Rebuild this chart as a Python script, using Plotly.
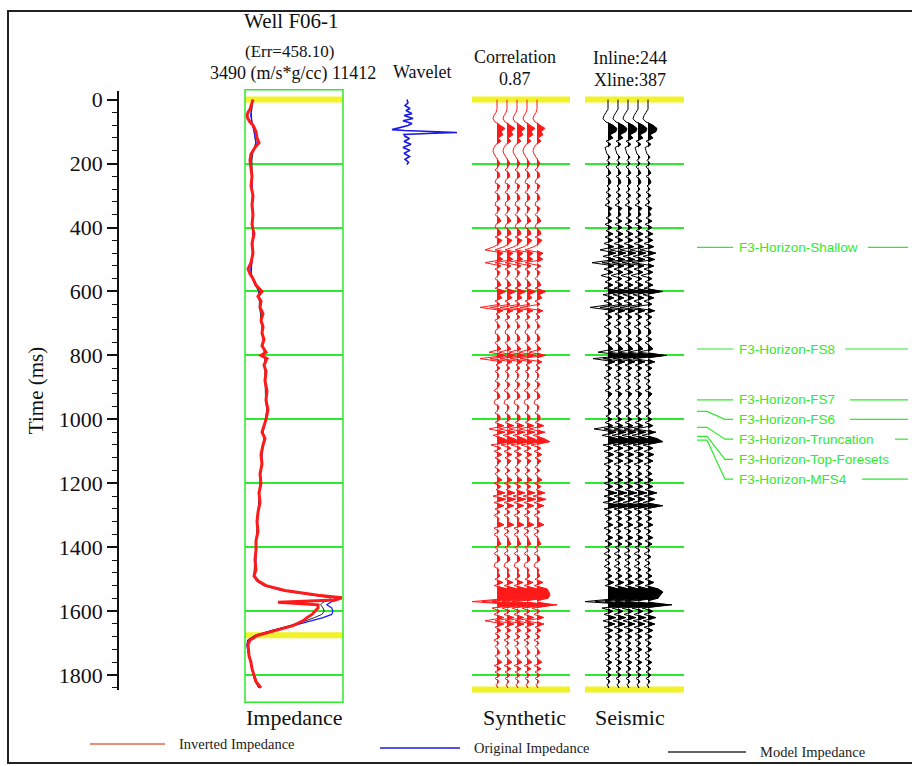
import plotly.graph_objects as go

W, H = 912, 766
T0_PX, PX_MS = 97.0, 0.321          # time 0 at pixel row 97, 0.321 px per ms


def t_at(ypx):
    return (ypx - T0_PX) / PX_MS


def fx(x):
    return x / W


def fy(y):
    return 1 - y / H


# ---------------- data ----------------
imp_time = [0, 10, 20, 30, 40, 50, 60, 70, 80,
            100, 120, 135, 150, 170, 190,
            210, 240, 270, 300, 330, 360, 390, 420, 450, 480,
            510, 530, 545, 560, 580, 600, 615, 630, 650, 670,
            690, 710, 730, 750, 770, 790, 800, 810, 830, 850,
            880, 910, 940, 970, 1000, 1020, 1040, 1060, 1080, 1110,
            1140, 1170, 1200, 1230, 1260, 1290, 1320, 1350, 1380, 1410,
            1440, 1470, 1490, 1505, 1520, 1535, 1550, 1558, 1565, 1572,
            1580, 1590, 1600, 1610, 1620, 1630, 1645, 1660, 1675, 1690,
            1705, 1720, 1740, 1760, 1780, 1800, 1820, 1840]

inverted_imp = [4137, 4056, 3975, 3894, 3733, 3652, 3733, 3894, 4137,
                4379, 4460, 4622, 4298, 3975, 3894,
                3975, 4056, 3975, 4137, 4056, 4137, 4056, 4218, 4056, 4137,
                3975, 3733, 3894, 4137, 4379, 4864, 4541, 4783, 4703, 4945,
                4783, 4945, 4864, 5026, 4864, 5188, 4783, 5268, 5026, 5188,
                5107, 5268, 5188, 5349, 5188, 5026, 4864, 5107, 4945, 4783,
                4864, 4703, 4783, 4622, 4703, 4541, 4460, 4541, 4379, 4379,
                4298, 4379, 4218, 4541, 5188, 6724, 9391, 11331, 10765, 6158,
                9391, 9391, 9149, 8906, 8502, 8179, 7370, 5915, 4541, 3894,
                3733, 3773, 3814, 3975, 4056, 4218, 4379, 4783]

original_imp = [4100, 4100, 4050, 4000, 3950, 3950, 4000, 4050, 4100,
                4250, 4350, 4400, 4250, 4050, 4000,
                4000, 4050, 4050, 4100, 4100, 4100, 4100, 4150, 4100, 4100,
                4050, 3950, 4000, 4150, 4350, 4700, 4600, 4700, 4700, 4850,
                4800, 4900, 4900, 5000, 4900, 5100, 4900, 5150, 5050, 5150,
                5100, 5200, 5200, 5300, 5200, 5050, 4950, 5050, 4950, 4850,
                4850, 4750, 4750, 4650, 4650, 4550, 4500, 4500, 4400, 4400,
                4350, 4350, 4250, 4450, 5100, 6400, 9000, 10700, 10900, 10400,
                10100, 10500, 10600, 10500, 9800, 8900, 7400, 5700, 4400, 3750,
                3650, 3700, 3800, 3950, 4050, 4200, 4350, 4700]

model_imp = [4100, 4100, 4100, 4050, 4000, 4000, 4000, 4050, 4100,
             4250, 4300, 4350, 4250, 4100, 4050,
             4050, 4050, 4050, 4100, 4100, 4100, 4100, 4150, 4100, 4100,
             4050, 4000, 4000, 4100, 4300, 4600, 4550, 4650, 4650, 4750,
             4750, 4850, 4850, 4950, 4900, 5050, 4950, 5100, 5050, 5100,
             5100, 5150, 5150, 5250, 5150, 5050, 4950, 5000, 4950, 4850,
             4800, 4750, 4700, 4650, 4600, 4550, 4500, 4450, 4400, 4350,
             4300, 4250, 4200, 4400, 5000, 6600, 9300, 10400, 10300, 9800,
             9600, 9800, 9900, 9700, 9100, 8400, 7100, 5600, 4300, 3700,
             3650, 3700, 3800, 3900, 4000, 4150, 4300, 4600]

imp_min, imp_max = 3490, 11412
imp_markers = [0, 1675]            # yellow marker times on impedance track

wavelet_lag = [-103, -93, -84, -75, -69, -59, -53, -44, -37, -28, -22, -16, -9, -6,
               -2, 0, 3, 6, 12, 19, 28, 37, 47, 56, 65, 75, 84, 93, 100]
wavelet_amp = [0.0, 0.02, -0.04, 0.06, -0.02, 0.10, -0.06, 0.12, -0.08, 0.10, 0.02, -0.14,
               -0.30, -0.05, 0.60, 1.00, 0.40, -0.06, -0.04, 0.05, -0.06, 0.08, -0.08,
               0.06, -0.06, 0.05, -0.04, 0.03, 0.0]

trace_time = list(range(0, 1841, 10))   # 10 ms sampling

synthetic_amp = [0, 0, 0, 0, -1, -3, -4, -2, 3, 8,
                 4, 6, 1, 4, -1, -3, -4, -3, -1, 1,
                 3, 1, -2, 2, 3, -1, -2, 3, 1, -2,
                 2, 3, -1, -2, 3, 1, -2, 2, 4, -1,
                 -2, 3, 4, -2, 5, 2, -3, -12, 6, 2,
                 6, -12, 4, -2, 3, 1, -2, 2, 4, -2,
                 9, 2, 5, -2, 3, -17, 6, -1, 3, -2,
                 1, 3, -1, -2, 2, 3, -2, 1, 4, -8,
                 9, -17, 5, -1, 3, -2, 2, 1, -2, 3,
                 1, -3, 2, 3, -2, -3, 2, 1, -2, 3,
                 3, -2, 7, -8, 8, -4, 7, 13, -6, 4,
                 -3, 5, -2, 4, 1, -2, 3, -2, 1, 5,
                 -3, 4, -1, 8, -4, 9, -3, 7, -2, 3,
                 -3, 2, 1, 7, -3, 2, -3, 1, 2, 4,
                 -2, 1, -3, 2, 3, -2, -3, 2, 1, 3,
                 -2, 6, -3, 10, 12, 13, 11, -25, 20, -5,
                 3, -3, 7, -12, 7, -2, 4, -2, 3, -3,
                 2, -2, 1, 3, -2, 1, 5, -3, 4, -2,
                 3, -2, 2, -1, 1]

seismic_amp = [0, 0, 0, 0, -2, -4, -5, -2, 5, 9,
               8, 2, 5, -2, 3, -3, -2, -1, 2, -1,
               2, -2, 1, 3, -2, 2, 3, -1, 2, -2,
               3, -2, 2, -3, 4, 1, 3, -2, 4, -3,
               4, -2, 5, -3, 5, -4, 6, -8, 8, -5,
               7, -16, 6, -4, 5, -7, 4, -3, 5, -4,
               15, -5, 6, -4, 4, -18, 7, -3, 4, -2,
               3, -4, 2, 3, -2, 4, -3, 2, 5, -10,
               19, -15, 7, -3, 4, -2, 3, -4, 2, -2,
               3, -3, 4, 1, -2, 3, -4, 2, 3, -2,
               4, -3, 5, -14, 8, -6, 9, 15, -5, 5,
               -4, 6, -3, 5, -4, 3, -2, 4, -3, 5,
               -4, 5, -3, 9, -4, 7, -5, 15, -4, 4,
               -3, 4, -2, 5, -4, 3, -2, 5, -3, 4,
               -3, 2, -4, 3, -3, 2, -4, 3, -2, 4,
               -3, 6, -3, 10, 15, 12, 10, -23, 24, -6,
               5, -4, 8, -5, 7, -4, 5, -3, 4, -3,
               3, -2, 4, -3, 2, -3, 4, -2, 3, -2,
               3, -2, 2, -1, 1]

trace_window = [0, 1845]           # yellow marker times on synthetic/seismic

horizon_names = ["F3-Horizon-Shallow", "F3-Horizon-FS8", "F3-Horizon-FS7", "F3-Horizon-FS6",
                 "F3-Horizon-Truncation", "F3-Horizon-Top-Foresets", "F3-Horizon-MFS4"]
horizon_times = [462, 780, 939, 975, 1025, 1053, 1065]
horizon_label_times = [462, 780, 939, 1000, 1062, 1125, 1187]
horizon_tail_start = [868, 845, 850, 850, 895, 912, 862]

# ---------------- layout geometry ----------------
FONT_SERIF = "Liberation Serif, Times New Roman, serif"
FONT_SANS = "Liberation Sans, Arial, sans-serif"
GREEN = "#2eea2e"
YELLOW = "rgb(242,242,40)"
RED = "#ff1a1a"

Y_TOP, Y_BOT = 87, 702
main_range = [t_at(Y_BOT), t_at(Y_TOP)]
main_dom = [fy(Y_BOT), fy(Y_TOP)]
WAVE_PEAK_T = t_at(130)

fig = go.Figure()

# dummy for the visible time axis
fig.add_trace(go.Scatter(x=[None], y=[None], xaxis="x", yaxis="y2", showlegend=False,
                         hoverinfo="skip"))

# yellow window markers (drawn first, under the curves)
for t in imp_markers:
    fig.add_trace(go.Scatter(x=[imp_min, imp_max], y=[t, t], xaxis="x", yaxis="y", mode="lines",
                             line=dict(color=YELLOW, width=6), showlegend=False, hoverinfo="skip"))
for xa, xr in [("x3", [0, 98]), ("x4", [0, 99])]:
    for t in trace_window:
        fig.add_trace(go.Scatter(x=xr, y=[t, t], xaxis=xa, yaxis="y", mode="lines",
                                 line=dict(color=YELLOW, width=6), showlegend=False,
                                 hoverinfo="skip"))

# impedance track
fig.add_trace(go.Scatter(x=model_imp, y=imp_time, xaxis="x", yaxis="y", mode="lines",
                         line=dict(color="#222222", width=1), showlegend=False))
fig.add_trace(go.Scatter(x=original_imp, y=imp_time, xaxis="x", yaxis="y", mode="lines",
                         line=dict(color="#1a1aff", width=1.2), showlegend=False))
fig.add_trace(go.Scatter(x=inverted_imp, y=imp_time, xaxis="x", yaxis="y", mode="lines",
                         line=dict(color=RED, width=3), showlegend=False))

# wavelet
fig.add_trace(go.Scatter(x=wavelet_amp, y=wavelet_lag, xaxis="x2", yaxis="y3", mode="lines",
                         line=dict(color="#1a1ae6", width=1.6), showlegend=False))


def add_wiggles(amp, offsets, xa, color):
    for off in offsets:
        base = [off] * len(trace_time)
        pos = [off + max(a, 0) for a in amp]
        full = [off + a for a in amp]
        fig.add_trace(go.Scatter(x=base, y=trace_time, xaxis=xa, yaxis="y", mode="lines",
                                 line=dict(width=0, color=color), showlegend=False,
                                 hoverinfo="skip"))
        fig.add_trace(go.Scatter(x=pos, y=trace_time, xaxis=xa, yaxis="y", mode="lines",
                                 line=dict(width=0, color=color), fill="tonextx",
                                 fillcolor=color, showlegend=False, hoverinfo="skip"))
        fig.add_trace(go.Scatter(x=full, y=trace_time, xaxis=xa, yaxis="y", mode="lines",
                                 line=dict(width=1.0, color=color), showlegend=False))


add_wiggles(synthetic_amp, [25, 35, 45, 55, 65], "x3", RED)
add_wiggles(seismic_amp, [23, 33, 43, 53, 63], "x4", "#000000")

# horizons
for name, ht, lt, tail in zip(horizon_names, horizon_times, horizon_label_times, horizon_tail_start):
    if lt == ht:
        xs, ys = [697, 733], [ht, ht]
    else:
        xs, ys = [697, 707, 725, 733], [ht, ht, lt, lt]
    fig.add_trace(go.Scatter(x=xs, y=ys, xaxis="x5", yaxis="y5", mode="lines",
                             line=dict(color=GREEN, width=1.2), showlegend=False))
    if tail < 908:
        fig.add_trace(go.Scatter(x=[tail, 908], y=[lt, lt], xaxis="x5", yaxis="y5", mode="lines",
                                 line=dict(color=GREEN, width=1.2), showlegend=False))
    fig.add_annotation(x=737, y=lt, xref="x5", yref="y5", text=name, showarrow=False,
                       xanchor="left", yanchor="middle",
                       font=dict(family=FONT_SANS, size=13.5, color=GREEN))

shapes = []
# impedance box
shapes.append(dict(type="rect", xref="paper", yref="paper", x0=fx(245), x1=fx(343),
                   y0=fy(Y_BOT), y1=fy(Y_TOP), line=dict(color=GREEN, width=1.5)))

# outer frame
shapes.append(dict(type="rect", xref="paper", yref="paper", x0=fx(8), x1=fx(930),
                   y0=fy(763), y1=fy(8), line=dict(color="#222222", width=2)))

# legend lines
legend_items = [("Inverted Impedance", "#dd6a4a", 90, 165, 744),
                ("Original Impedance", "#1a1ae6", 380, 460, 748),
                ("Model Impedance", "#333333", 668, 746, 752)]
for label, col, x0, x1, yy in legend_items:
    shapes.append(dict(type="line", xref="paper", yref="paper", x0=fx(x0), x1=fx(x1),
                       y0=fy(yy), y1=fy(yy), line=dict(color=col, width=1.5)))
    fig.add_annotation(x=fx(x1 + 12), y=fy(yy), xref="paper", yref="paper", text=label,
                       showarrow=False, xanchor="left", yanchor="middle",
                       font=dict(family=FONT_SERIF, size=14.5, color="#222222"))

texts = [("Well F06-1", 291, 18, 21), ("(Err=458.10)", 289, 49, 17),
         ("3490 (m/s*g/cc) 11412", 293, 71, 18), ("Wavelet", 422, 69, 18),
         ("Correlation", 515, 54, 18), ("0.87", 515, 76, 18),
         ("Inline:244", 630, 55, 18), ("Xline:387", 630, 77, 18),
         ("Impedance", 294, 717, 22), ("Synthetic", 524, 717, 22), ("Seismic", 630, 717, 22)]
for txt, x, y, s in texts:
    fig.add_annotation(x=fx(x), y=fy(y), xref="paper", yref="paper", text=txt,
                       showarrow=False, xanchor="center", yanchor="middle",
                       font=dict(family=FONT_SERIF, size=s, color="#111111"))

fig.update_layout(
    width=W, height=H, margin=dict(l=0, r=0, t=0, b=0),
    paper_bgcolor="white", plot_bgcolor="rgba(0,0,0,0)",
    showlegend=False, shapes=shapes,
    xaxis=dict(domain=[fx(245), fx(343)], range=[imp_min, imp_max], visible=False, anchor="y"),
    xaxis2=dict(domain=[fx(385), fx(462)], range=[-0.44, 1.1], visible=False, anchor="y3"),
    xaxis3=dict(domain=[fx(472), fx(570)], range=[0, 98], visible=False, anchor="y"),
    xaxis4=dict(domain=[fx(585), fx(684)], range=[0, 99], visible=False, anchor="y"),
    xaxis5=dict(domain=[fx(690), 1.0], range=[690, 912], visible=False, anchor="y5"),
    yaxis=dict(domain=main_dom, range=main_range, showgrid=True, gridcolor=GREEN,
               gridwidth=1.5, dtick=200, tick0=0, showticklabels=False, ticks="",
               showline=False, zeroline=False),
    yaxis2=dict(domain=[fy(690), fy(88)], range=[t_at(690), t_at(88)], anchor="free",
                position=fx(118), side="left", showline=True, linecolor="#111111",
                linewidth=1.5, ticks="outside", ticklen=10, tickwidth=1.5,
                tickcolor="#111111", dtick=200, tick0=0, showgrid=False, zeroline=False,
                minor=dict(dtick=40, ticks="outside", ticklen=5, tickwidth=1.2,
                           tickcolor="#111111", showgrid=False),
                tickfont=dict(family=FONT_SERIF, size=22, color="#111111"),
                title=dict(text="Time (ms)", standoff=8,
                           font=dict(family=FONT_SERIF, size=21, color="#111111"))),
    yaxis3=dict(domain=main_dom, range=[main_range[0] - WAVE_PEAK_T, main_range[1] - WAVE_PEAK_T],
                visible=False),
    yaxis5=dict(domain=main_dom, range=main_range, visible=False),
)

fig.write_html("out.html")
